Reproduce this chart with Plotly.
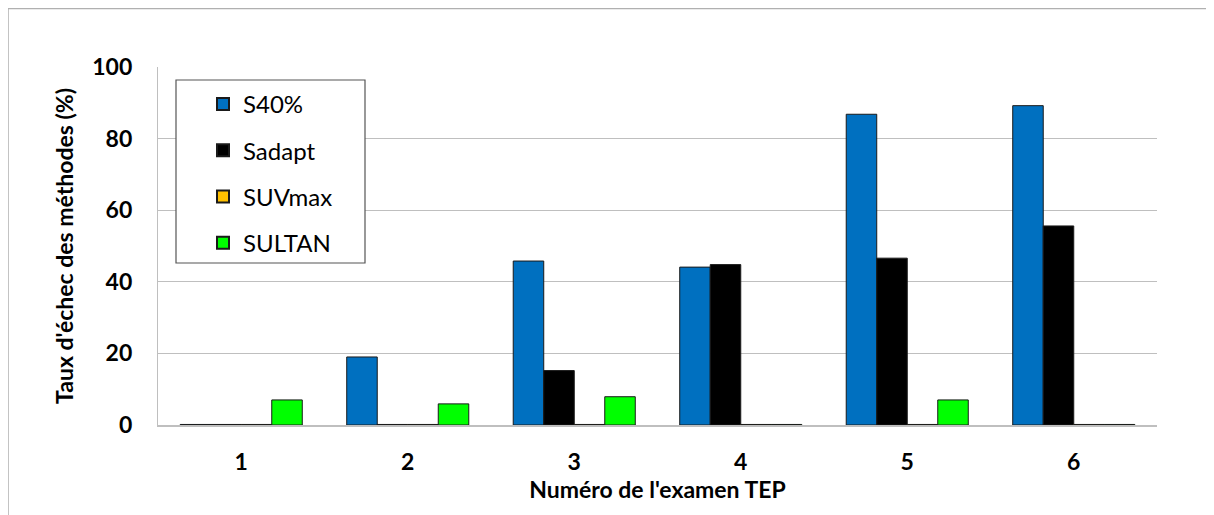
import plotly.graph_objects as go

# Données
examens = ["1", "2", "3", "4", "5", "6"]
s40 = [0, 19.0, 45.8, 44.1, 86.8, 89.2]
sadapt = [0, 0, 15.2, 44.8, 46.6, 55.6]
suvmax = [0, 0, 0, 0, 0, 0]
sultan = [7.0, 5.9, 7.9, 0, 7.0, 0]

series = [
    ("S40%", s40, "#0070C0"),
    ("Sadapt", sadapt, "#000000"),
    ("SUVmax", suvmax, "#FFC000"),
    ("SULTAN", sultan, "#00FF00"),
]

# la page ajoute une marge de 8 px autour de la figure
OFF = 8
W, H = 1214, 515
L, R, T, B = 158 - OFF, 65, 67 - OFF, 98
pw, ph = W - L - R, H - T - B


def px_x(v):
    return (v - OFF - L) / pw


def px_y(v):
    return (H - B - (v - OFF)) / ph


fig = go.Figure()

for nom, vals, col in series:
    # une barre nulle reste visible comme un trait, comme dans Excel
    aff = [v if v > 0 else 0.15 for v in vals]
    fig.add_trace(go.Bar(
        x=examens, y=aff, name=nom, legendgroup=nom,
        marker=dict(color=col, line=dict(color="#1a1a1a", width=1)),
    ))

fig.update_layout(
    width=W, height=H,
    margin=dict(l=L, r=R, t=T, b=B),
    paper_bgcolor="white", plot_bgcolor="white",
    barmode="group", bargap=0.267, bargroupgap=0,
    font=dict(family="Lato", size=20, color="black"),
    legend=dict(
        x=px_x(203), y=px_y(82), xanchor="left", yanchor="top",
        bgcolor="rgba(0,0,0,0)", borderwidth=0,
        font=dict(family="Lato", size=24),
        tracegroupgap=12, itemsizing="constant",
    ),
    xaxis=dict(
        title=dict(text="<b>Numéro de l'examen TEP</b>", font=dict(size=23), standoff=8),
        tickfont=dict(size=23), ticklabelstandoff=16,
        showline=True, linecolor="#bfbfbf", linewidth=1.5,
        ticks="", tickprefix="<b>", ticksuffix="</b>",
    ),
    yaxis=dict(
        title=dict(text="<b>Taux d'échec des méthodes (%)</b>", font=dict(size=23), standoff=12),
        range=[0, 100], dtick=20,
        tickfont=dict(size=23), tickprefix="<b>", ticksuffix="</b>",
        showgrid=True, gridcolor="#bfbfbf", gridwidth=1.3,
        showline=True, linecolor="#bfbfbf", linewidth=1.3,
        zeroline=False, ticks="", ticklabelstandoff=20,
    ),
    shapes=[
        # cadre de la zone graphique
        dict(type="rect", xref="paper", yref="paper",
             x0=px_x(8), x1=px_x(1240), y0=px_y(540), y1=px_y(8.5),
             line=dict(color="#b0b0b0", width=1.5), layer="below"),
        # cadre de la légende
        dict(type="rect", xref="paper", yref="paper",
             x0=px_x(176), x1=px_x(365), y0=px_y(263), y1=px_y(80),
             line=dict(color="#555555", width=1.2), fillcolor="white"),
    ],
)

fig.write_html("out.html")
